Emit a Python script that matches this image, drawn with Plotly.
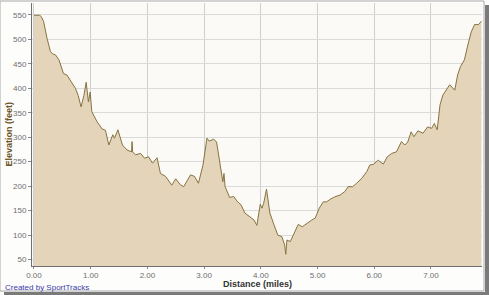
import plotly.graph_objects as go

distance = [0.00, 0.10, 0.13, 0.17, 0.23, 0.29, 0.33, 0.38, 0.44, 0.52, 0.58, 0.67, 0.73, 0.78, 0.83, 0.88,
            0.92, 0.96, 0.99, 1.02, 1.11, 1.20, 1.26, 1.32, 1.39, 1.42, 1.48, 1.56, 1.64, 1.72, 1.73, 1.74,
            1.79, 1.88, 1.95, 2.02, 2.09, 2.17, 2.23, 2.32, 2.43, 2.50, 2.58, 2.64, 2.76, 2.83, 2.90, 2.98,
            3.05, 3.09, 3.17, 3.22, 3.28, 3.33, 3.35, 3.37, 3.45, 3.52, 3.59, 3.65, 3.72, 3.81, 3.88, 3.93,
            3.99, 4.02, 4.05, 4.10, 4.16, 4.22, 4.30, 4.37, 4.42, 4.44, 4.46, 4.52, 4.59, 4.66, 4.73, 4.81,
            4.90, 4.96, 5.03, 5.10, 5.16, 5.22, 5.30, 5.40, 5.48, 5.54, 5.62, 5.69, 5.78, 5.87, 5.92, 5.99,
            6.07, 6.16, 6.23, 6.31, 6.39, 6.48, 6.54, 6.59, 6.65, 6.70, 6.77, 6.86, 6.94, 7.01, 7.06, 7.11,
            7.16, 7.21, 7.29, 7.33, 7.42, 7.47, 7.52, 7.59, 7.65, 7.71, 7.77, 7.84, 7.89]
elevation = [549, 549, 546, 536, 502, 475, 470, 468, 458, 430, 427, 410, 400, 385, 362, 385,
             412, 372, 392, 352, 332, 317, 314, 284, 305, 298, 315, 284, 274, 270, 291, 270,
             264, 267, 257, 260, 247, 258, 226, 220, 202, 215, 203, 199, 223, 220, 206, 243,
             298, 292, 296, 290, 243, 209, 226, 199, 177, 179, 168, 162, 145, 138, 131, 120,
             163, 155, 165, 194, 145, 125, 100, 97, 80, 61, 90, 87, 104, 122, 117, 124,
             131, 135, 155, 168, 168, 173, 178, 182, 189, 199, 199, 206, 216, 230, 243, 245,
             253, 245, 260, 267, 270, 291, 284, 290, 311, 301, 313, 308, 321, 318, 328, 315,
             366, 386, 400, 407, 396, 427, 444, 458, 488, 515, 530, 530, 537]

x_ticks = [0, 1, 2, 3, 4, 5, 6, 7]
x_tick_labels = ["0.00", "1.00", "2.00", "3.00", "4.00", "5.00", "6.00", "7.00"]
y_ticks = [50, 100, 150, 200, 250, 300, 350, 400, 450, 500, 550]

fig = go.Figure()
fig.add_trace(go.Scatter(
    x=distance, y=elevation, mode="lines",
    line=dict(color="#86733f", width=1),
    fill="tozeroy", fillcolor="#e4d4ba",
    hoverinfo="skip", showlegend=False,
))

tickfont = dict(family="Liberation Sans, Arial, sans-serif", size=8, color="#6e6e6e")
fig.update_layout(
    width=489, height=295,
    margin=dict(l=32, r=7, t=3, b=29),
    paper_bgcolor="#fdfdfc",
    plot_bgcolor="#fbfaf6",
    xaxis=dict(range=[-0.035, 7.90], tickvals=x_ticks, ticktext=x_tick_labels,
               showgrid=True, gridcolor="#cfcfcf", gridwidth=1,
               showline=True, linecolor="#6f6f6f", linewidth=1,
               ticks="outside", ticklen=2, tickcolor="#8a8a8a",
               ticklabelstandoff=-1,
               tickfont=tickfont, zeroline=False),
    yaxis=dict(range=[37, 574], tickvals=y_ticks,
               showgrid=True, gridcolor="#dadada", gridwidth=1,
               showline=True, linecolor="#6f6f6f", linewidth=1,
               ticks="outside", ticklen=3, tickcolor="#8a8a8a",
               tickfont=tickfont, zeroline=False),
    annotations=[
        dict(text="<b>Distance (miles)</b>", xref="paper", yref="paper", x=0.5, y=0,
             xanchor="center", yanchor="middle", yshift=-18, showarrow=False,
             font=dict(family="Liberation Sans, Arial, sans-serif", size=9, color="#333333")),
        dict(text="<b>Elevation (feet)</b>", xref="paper", yref="paper", x=0, y=0.5,
             xanchor="center", yanchor="middle", xshift=-24, textangle=-90, showarrow=False,
             font=dict(family="Liberation Sans, Arial, sans-serif", size=9, color="#6b5526")),
        dict(text="Created by SportTracks", xref="paper", yref="paper", x=0, y=0,
             xanchor="left", yanchor="middle", xshift=-29, yshift=-21, showarrow=False,
             font=dict(family="Liberation Sans, Arial, sans-serif", size=8, color="#3a3aa8")),
    ],
    shapes=[
        dict(type="rect", xref="paper", yref="paper", x0=-32/450, x1=1 + 2/450, y0=-25/263, y1=1 + 2/263,
             line=dict(color="#a8a8a8", width=1), layer="below"),
        dict(type="rect", xref="paper", yref="paper", x0=1 + 3/450, x1=1 + 7/450, y0=-29/263, y1=1 - 2/263,
             line=dict(width=0), fillcolor="#7a7a7a"),
        dict(type="rect", xref="paper", yref="paper", x0=-28/450, x1=1 + 7/450, y0=-29/263, y1=-26/263,
             line=dict(width=0), fillcolor="#7a7a7a"),
    ],
)

fig.write_html("out.html")
